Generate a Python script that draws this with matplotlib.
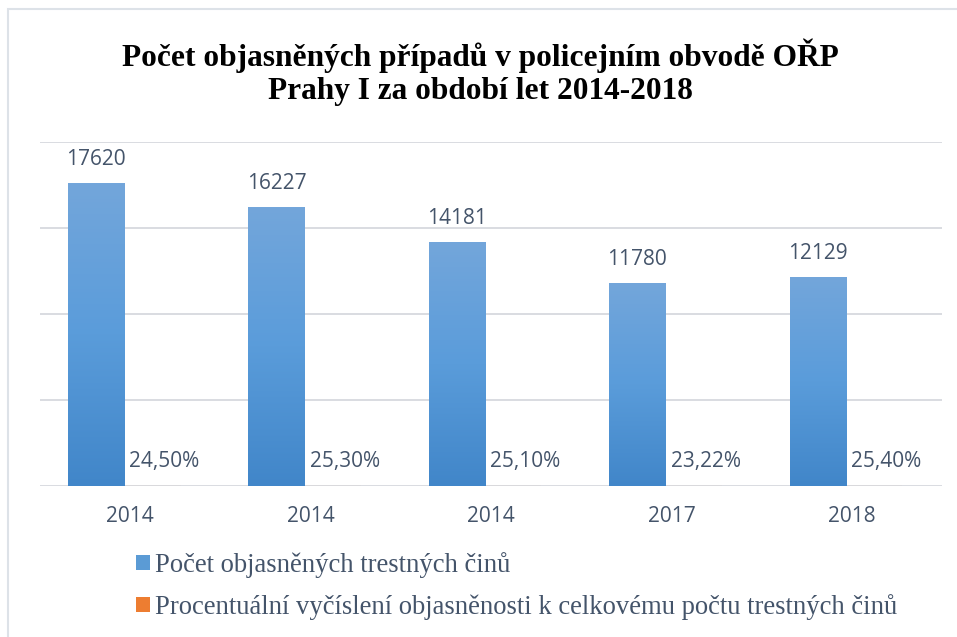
import numpy as np
import matplotlib.pyplot as plt
from matplotlib.colors import LinearSegmentedColormap
from matplotlib.patches import Rectangle

# Data
years = ['2014', '2014', '2014', '2017', '2018']
solved = [17620, 16227, 14181, 11780, 12129]
solved_pct = [0.2450, 0.2530, 0.2510, 0.2322, 0.2540]

title = 'Počet objasněných případů v policejním obvodě OŘP\nPrahy I za období let 2014-2018'
label_solved = 'Počet objasněných trestných činů'
label_pct = 'Procentuální vyčíslení objasněnosti k celkovému počtu trestných činů'

text_col = '#44546A'
grid_col = '#D9DCE1'
sans = ['Open Sans', 'DejaVu Sans']
serif = ['Liberation Serif', 'DejaVu Serif']

fig = plt.figure(figsize=(9.57, 6.37), dpi=100)
ax = fig.add_axes([40 / 957, 1 - 485.5 / 637, 902 / 957, 343.8 / 637])

x = np.arange(len(years))
w = 0.312
b1 = ax.bar(x - 0.189, solved, w, color='#5B9BD5', zorder=2)
# percentages share the count axis, so these bars are flat (hidden under the baseline)
b2 = ax.bar(x + 0.123, solved_pct, w, color='#ED7D31', lw=0, zorder=0.1)

# vertical gradient on the blue bars (lighter at top)
grad = LinearSegmentedColormap.from_list('g', ['#4186C9', '#5A9CDA', '#73A6DB'])
for r in b1:
    x0 = r.get_x()
    ax.imshow(np.linspace(0, 1, 256).reshape(-1, 1), cmap=grad, origin='lower',
              extent=(x0, x0 + r.get_width(), 0, r.get_height()),
              aspect='auto', zorder=3)

for r, v in zip(b1, solved):
    ax.annotate(str(v), (r.get_x() + r.get_width() / 2, v), xytext=(0, 13),
                textcoords='offset points', ha='center', va='baseline',
                fontsize=15, color=text_col, family=sans)

for i, p in enumerate(solved_pct):
    ax.annotate(f'{p * 100:.2f}%'.replace('.', ','), (i + 0.19, 0), xytext=(0, 13),
                textcoords='offset points', ha='center', va='baseline',
                fontsize=15, color=text_col, family=sans)

ax.set_xlim(-0.5, len(years) - 0.5)
ax.set_ylim(0, 20000)
ax.set_xticks(x, years)
ax.set_yticks(range(0, 20001, 5000))
ax.set_yticklabels([])
ax.tick_params(length=0, pad=15, labelsize=15, labelcolor=text_col)
for t in ax.get_xticklabels():
    t.set_family(sans)
ax.grid(axis='y', color=grid_col, lw=1.4, zorder=0)
ax.set_axisbelow(True)
for s in ax.spines.values():
    s.set_visible(False)

fig.text(0.502, 0.887, title, ha='center', va='center', family=serif,
         weight='bold', fontsize=22.6, linespacing=1.17)

fig.legend(handles=[b1, b2], labels=[label_solved, label_pct], loc='upper left',
           bbox_to_anchor=(136 / 957, 1 - 552 / 637), frameon=False,
           prop={'family': serif, 'size': 19.2}, labelcolor=text_col,
           handlelength=0.52, handleheight=0.52, handletextpad=0.2,
           labelspacing=0.6, borderaxespad=0, borderpad=0)

# thin frame around the chart (cut off at right and bottom)
fig.add_artist(Rectangle((8 / 957, -0.1), 1.0, 1 - 9 / 637 + 0.1,
                         transform=fig.transFigure, fill=False,
                         ec='#DDE2E8', lw=1.5))

fig.savefig('out.png', dpi=100)
